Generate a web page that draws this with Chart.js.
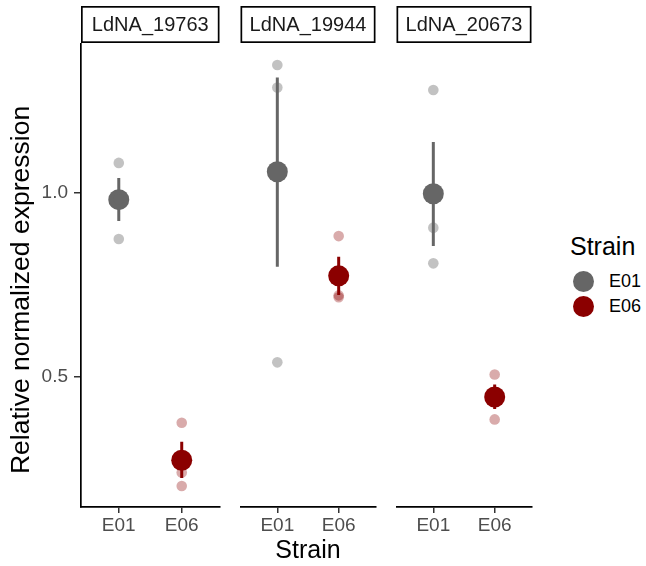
<!DOCTYPE html>
<html>
<head>
<meta charset="utf-8">
<script src="https://cdn.jsdelivr.net/npm/chart.js@4.4.1/dist/chart.umd.min.js"></script>
<style>
  body { margin: 0; background: #fff; }
  #wrap { position: relative; width: 646px; height: 566px; font-family: 'Liberation Sans', Arial, sans-serif; }
  canvas { position: absolute; top: 0; }
  .leg-title { position: absolute; left: 570px; top: 234px; font-size: 25px; line-height: 25px; color: #000; }
  .leg-item { position: absolute; left: 573px; height: 22px; display: flex; align-items: center; font-size: 18px; color: #000; }
  .leg-dot { width: 21px; height: 21px; border-radius: 50%; margin-right: 15px; }
</style>
</head>
<body>
<div id="wrap">
  <canvas id="p0" width="230" height="566" style="left:0"></canvas>
  <canvas id="p1" width="156" height="566" style="left:230px"></canvas>
  <canvas id="p2" width="156" height="566" style="left:386px"></canvas>
  <div class="leg-title">Strain</div>
  <div class="leg-item" style="top:270px"><span class="leg-dot" style="background:#666666"></span>E01</div>
  <div class="leg-item" style="top:295px"><span class="leg-dot" style="background:#8b0000"></span>E06</div>
</div>
<script>
// facets and x categories
const genes = ['LdNA_19763', 'LdNA_19944', 'LdNA_20673'];
const strains = ['E01', 'E06'];
const yTicks = [0.5, 1.0];

// replicate values per gene
const e01Reps = [[1.082, 0.983, 0.875], [1.348, 1.287, 0.540], [1.280, 0.906, 0.809]];
const e06Reps = [[0.376, 0.241, 0.204], [0.883, 0.722, 0.717], [0.507, 0.446, 0.385]];

// means and error bar ends
const e01Mean = [0.982, 1.058, 0.998];
const e06Mean = [0.274, 0.775, 0.446];
const e01Lo = [0.924, 0.800, 0.856];
const e01Hi = [1.041, 1.314, 1.139];
const e06Lo = [0.226, 0.723, 0.413];
const e06Hi = [0.324, 0.827, 0.480];

const font = "'Liberation Sans', Arial, sans-serif";
const colors = {
    e01: '#666666',
    e06: '#8b0000',
    e01Rep: 'rgba(102,102,102,0.4)',
    e06Rep: 'rgba(139,0,0,0.33)'
};

// strip label box above each panel (+ y title on the first one)
const stripPlugin = {
    id: 'strip',
    afterDraw(chart, args, opts) {
        const { ctx, chartArea } = chart;
        ctx.save();
        ctx.lineWidth = 1.7;
        ctx.strokeStyle = '#000';
        ctx.strokeRect(chartArea.left + 0.85, 6.85, chartArea.right - chartArea.left - 1.7, 35.3);
        ctx.fillStyle = '#1a1a1a';
        ctx.font = '20px ' + font;
        ctx.textAlign = 'center';
        ctx.textBaseline = 'middle';
        ctx.fillText(opts.text, (chartArea.left + chartArea.right) / 2, 25.5);
        if (opts.yTitle) {
            ctx.translate(22, 290);
            ctx.rotate(-Math.PI / 2);
            ctx.fillStyle = '#000';
            ctx.font = '26.5px ' + font;
            ctx.fillText(opts.yTitle, 0, 0);
        }
        ctx.restore();
    }
};

function pts(x, vals) {
    return vals.map(v => ({ x: x, y: v }));
}

function makePanel(id, i, pad) {
    const first = i === 0;
    const middle = i === 1;
    return new Chart(document.getElementById(id), {
        type: 'scatter',
        data: {
            datasets: [
                { data: pts(1, e01Reps[i]), backgroundColor: colors.e01Rep, pointRadius: 5.3, borderWidth: 0, order: 0 },
                { data: pts(2, e06Reps[i]), backgroundColor: colors.e06Rep, pointRadius: 5.3, borderWidth: 0, order: 0 },
                { data: [{ x: 1, y: e01Mean[i] }], backgroundColor: colors.e01, pointRadius: 10.5, borderWidth: 0, order: 1 },
                { data: [{ x: 2, y: e06Mean[i] }], backgroundColor: colors.e06, pointRadius: 10.5, borderWidth: 0, order: 1 },
                { data: pts(1, [e01Lo[i], e01Hi[i]]), showLine: true, borderColor: colors.e01, borderWidth: 3, pointRadius: 0, order: 2 },
                { data: pts(2, [e06Lo[i], e06Hi[i]]), showLine: true, borderColor: colors.e06, borderWidth: 3, pointRadius: 0, order: 2 }
            ]
        },
        options: {
            responsive: false,
            animation: false,
            events: [],
            layout: { padding: { top: 44, bottom: 0, left: pad[0], right: pad[1] } },
            plugins: {
                legend: { display: false },
                tooltip: { enabled: false },
                strip: { text: genes[i], yTitle: first ? 'Relative normalized expression' : null }
            },
            scales: {
                x: {
                    type: 'linear',
                    min: 0.4,
                    max: 2.6,
                    afterBuildTicks: s => { s.ticks = strains.map((_, k) => ({ value: k + 1 })); },
                    afterFit: s => { s.height = 59; },
                    ticks: {
                        callback: v => strains[Math.round(v) - 1],
                        color: '#4d4d4d',
                        font: { size: 19, family: font },
                        padding: 1,
                        maxRotation: 0
                    },
                    grid: { drawOnChartArea: false, drawTicks: true, tickLength: 6, color: '#333', lineWidth: 1.5 },
                    border: { display: true, color: '#000', width: 1.7 },
                    title: {
                        display: middle,
                        text: 'Strain',
                        color: '#000',
                        font: { size: 25, family: font },
                        padding: { top: 0, bottom: 0 }
                    }
                },
                y: {
                    display: first,
                    min: 0.147,
                    max: 1.405,
                    afterBuildTicks: s => { s.ticks = yTicks.map(v => ({ value: v })); },
                    afterFit: s => { s.width = first ? 81 : 0; },
                    ticks: {
                        callback: v => v.toFixed(1),
                        color: '#4d4d4d',
                        font: { size: 19, family: font },
                        padding: 6
                    },
                    grid: { drawOnChartArea: false, drawTicks: true, tickLength: 7, color: '#333', lineWidth: 1.5 },
                    border: { display: true, color: '#000', width: 1.7 }
                }
            }
        },
        plugins: [stripPlugin]
    });
}

makePanel('p0', 0, [0, 7]);
makePanel('p1', 1, [7, 7]);
makePanel('p2', 2, [6, 7]);
</script>
</body>
</html>
